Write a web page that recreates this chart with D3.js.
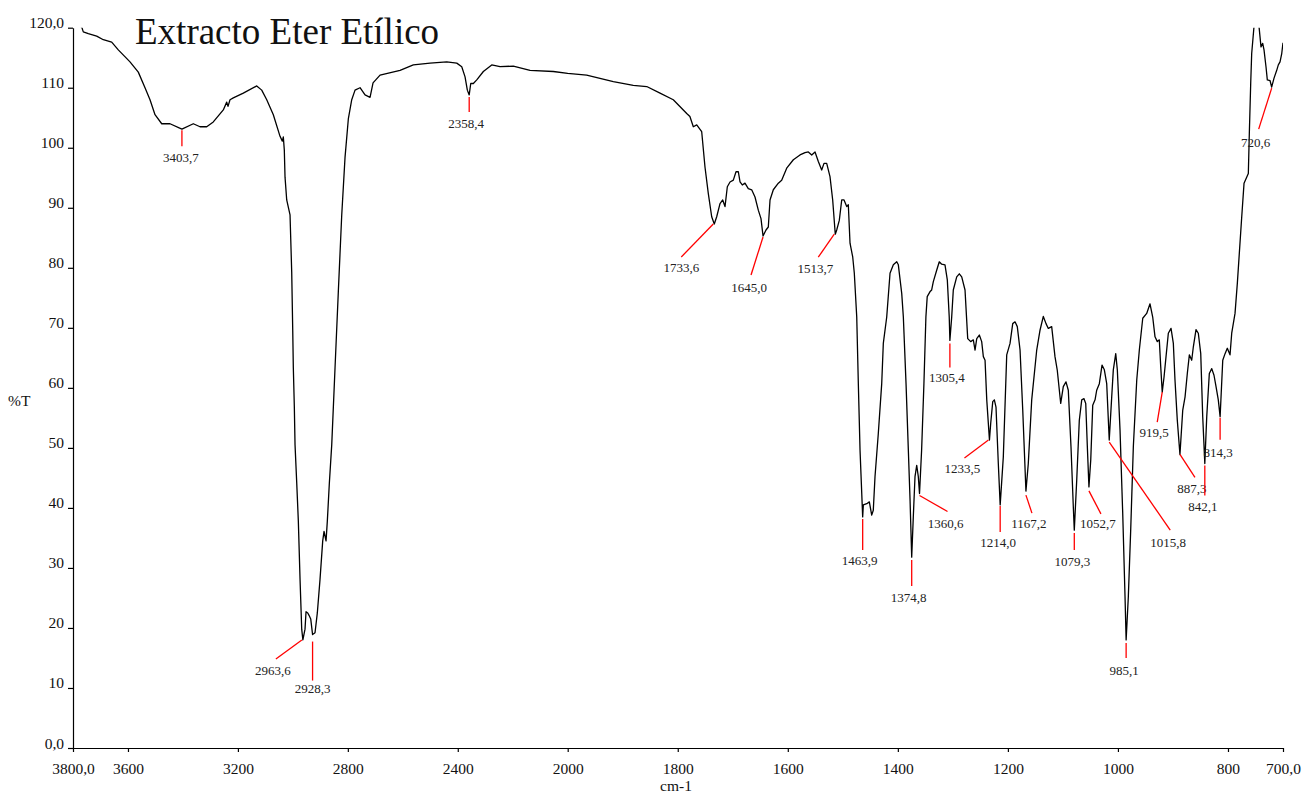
<!DOCTYPE html>
<meta charset="utf-8">
<style>
  body { margin: 0; background: #fff; }
  svg text { font-family: "Liberation Serif", "Times New Roman", serif; fill: #111; }
  .spectrum { fill: none; stroke: #000; stroke-width: 1.3; stroke-linejoin: round; }
  .leader { stroke: #f00; stroke-width: 1.3; }
  .peak-label { font-size: 13px; text-anchor: middle; fill: #222; }
  .axis path, .axis line { stroke: #000; stroke-width: 1.2; }
  .axis text { font-size: 15.5px; font-family: "Liberation Serif", serif; fill: #111; }
  .title { font-size: 37px; }
  .axis-title { font-size: 15.5px; }
</style>
<svg width="1304" height="796"></svg>
<script src="https://d3js.org/d3.v7.min.js"></script>
<script>

// spectrum (cm-1, %T)
var wavenumber = [
  3800, 3768.3, 3762.5, 3744.3, 3713.8, 3689.7, 3659.2, 3635.2, 3592.6, 3562.4,
  3538.0, 3519.8, 3501.6, 3477.2, 3447.0, 3403.7, 3362.2, 3337.9, 3313.5, 3289.5,
  3253.1, 3240.7, 3236.0, 3228.7, 3216.7, 3180.3, 3131.5, 3113.3, 3095.1, 3071.1,
  3046.7, 3038.4, 3034.7, 3031.1, 3028.5, 3022.4, 3010.3, 3004.2, 3000.5, 2998.3,
  2994.7, 2992.1, 2985.9, 2980.1, 2973.9, 2967.8, 2963.6, 2955.8, 2952.1, 2945.9,
  2941.2, 2935.0, 2928.3, 2919.4, 2911.0, 2901.2, 2891.4, 2886.6, 2879.3, 2874.6,
  2867.3, 2858.6, 2846.6, 2834.6, 2822.2, 2810.2, 2798.2, 2785.8, 2773.8, 2755.6,
  2737.4, 2719.2, 2708.3, 2682.8, 2610.0, 2561.7, 2500.9, 2440.1, 2403.7, 2385.5,
  2373.5, 2365.2, 2358.4, 2352.8, 2343.3, 2330.9, 2306.9, 2276.4, 2246.2, 2197.8,
  2137.0, 2052.2, 2000.0, 1965.5, 1917.1, 1880.8, 1856.4, 1832.2, 1808.1, 1789.9,
  1783.7, 1777.9, 1771.7, 1765.5, 1756.5, 1750.5, 1744.5, 1738.3, 1733.6, 1729.2,
  1723.2, 1718.3, 1714.1, 1709.9, 1705.0, 1699.0, 1694.1, 1689.9, 1686.8, 1682.7,
  1677.8, 1671.8, 1665.6, 1659.6, 1653.6, 1648.7, 1645.0, 1639.6, 1635.4, 1632.3,
  1626.3, 1617.2, 1611.1, 1602.0, 1589.9, 1577.8, 1568.7, 1562.7, 1556.5, 1550.5,
  1544.5, 1538.4, 1534.2, 1529.3, 1523.3, 1518.4, 1513.7, 1511.1, 1506.4, 1502.0,
  1497.8, 1492.9, 1490.0, 1486.9, 1482.0, 1479.1, 1474.7, 1471.8, 1468.7, 1463.9,
  1462.7, 1456.5, 1451.8, 1447.5, 1444.6, 1441.5, 1435.5, 1429.3, 1426.4, 1420.2,
  1414.2, 1408.2, 1402.0, 1399.1, 1392.9, 1390.0, 1385.1, 1380.9, 1377.8, 1374.8,
  1371.9, 1368.8, 1365.7, 1362.8, 1360.6, 1356.8, 1352.6, 1349.0, 1346.6, 1341.7,
  1338.6, 1335.5, 1329.4, 1324.7, 1320.3, 1314.3, 1310.1, 1306.6, 1305.4, 1302.1,
  1299.2, 1293.0, 1288.3, 1283.9, 1277.9, 1273.0, 1267.6, 1262.8, 1259.7, 1256.6,
  1251.9, 1247.6, 1244.6, 1241.5, 1238.4, 1233.5, 1231.2, 1227.5, 1224.6, 1221.6,
  1217.4, 1214.0, 1208.3, 1202.1, 1196.1, 1191.2, 1187.0, 1182.9, 1177.9, 1173.0,
  1167.2, 1162.9, 1156.7, 1147.6, 1141.6, 1135.6, 1130.7, 1126.5, 1120.4, 1114.4,
  1110.2, 1104.0, 1099.3, 1094.4, 1090.2, 1085.3, 1081.1, 1079.3, 1074.9, 1070.2,
  1065.8, 1061.7, 1058.5, 1055.6, 1052.7, 1049.4, 1045.8, 1041.6, 1038.6, 1033.8,
  1028.9, 1024.7, 1020.4, 1015.8, 1011.3, 1008.4, 1004.0, 1001.1, 996.2, 991.3,
  987.1, 985.1, 981.1, 976.8, 972.0, 965.8, 961.1, 954.9, 947.7, 941.7,
  936.8, 932.6, 928.4, 924.8, 922.2, 919.5, 916.2, 912.6, 908.4, 903.5,
  899.3, 896.3, 892.1, 887.3, 882.2, 878.0, 873.9, 870.2, 865.9, 863.0,
  858.1, 853.9, 849.5, 845.9, 842.1, 838.6, 833.9, 829.5, 825.4, 821.7,
  817.6, 814.3, 809.5, 805.3, 801.2, 796.3, 793.2, 787.2, 783.0, 779.4,
  775.0, 770.8, 763.0, 761.2, 758.7, 756.9, 752.7, 749.1, 743.6, 740.0,
  736.9, 734.5, 730.9, 728.5, 723.6, 720.6, 716.3, 711.4, 708.5, 705.4,
  702.3, 700.0
];
var transmittance = [
  121.0, 120.1, 119.3, 119.0, 118.6, 118.0, 117.6, 116.3, 114.3, 112.6,
  110.0, 108.0, 105.5, 104.0, 104.0, 103.1, 104.0, 103.5, 103.5, 104.3,
  106.3, 107.6, 106.9, 108.0, 108.3, 109.1, 110.3, 109.6, 108.0, 105.5,
  101.9, 101.1, 101.8, 99.6, 95.1, 91.3, 88.8, 79.3, 69.6, 63.3,
  56.9, 50.5, 44.1, 37.8, 28.1, 19.8, 18.0, 19.8, 22.7, 22.5,
  22.1, 21.5, 18.9, 19.2, 22.5, 28.1, 34.5, 36.1, 34.5, 37.8,
  44.1, 50.5, 63.3, 76.0, 88.8, 98.4, 104.8, 108.0, 109.6, 110.0,
  108.8, 108.4, 110.8, 112.1, 112.9, 113.8, 114.1, 114.3, 114.1, 113.5,
  111.8, 109.6, 108.8, 110.7, 110.7, 111.3, 112.7, 113.8, 113.5, 113.6,
  112.9, 112.7, 112.4, 112.1, 111.0, 110.4, 110.2, 109.1, 108.0, 106.3,
  105.7, 105.2, 103.5, 103.8, 102.7, 96.8, 92.4, 88.5, 87.3, 88.5,
  90.7, 91.3, 90.2, 93.5, 94.3, 94.6, 96.0, 96.0, 94.3, 93.8,
  94.1, 93.2, 93.0, 91.8, 89.6, 88.2, 85.3, 86.3, 86.8, 91.3,
  93.0, 94.1, 94.6, 96.6, 98.0, 98.8, 99.2, 99.3, 98.8, 99.3,
  97.7, 96.3, 97.4, 97.4, 95.2, 91.3, 85.6, 86.3, 87.9, 91.3,
  91.3, 90.2, 90.5, 84.1, 81.8, 79.1, 71.8, 60.7, 49.6, 38.5,
  40.5, 40.7, 41.0, 38.8, 39.6, 45.2, 52.4, 60.7, 67.4, 71.8,
  79.1, 80.5, 81.0, 80.5, 75.7, 71.8, 60.7, 49.6, 41.3, 31.8,
  38.5, 45.2, 47.1, 45.2, 42.4, 49.6, 60.7, 71.8, 75.2, 76.0,
  76.3, 77.7, 79.6, 81.0, 80.6, 80.5, 78.0, 71.8, 67.9, 71.8,
  76.3, 78.5, 79.0, 78.5, 76.3, 68.2, 67.7, 68.0, 66.3, 68.2,
  68.8, 67.7, 65.2, 64.6, 58.0, 51.3, 54.1, 57.7, 58.0, 56.8,
  47.4, 40.5, 48.5, 65.5, 67.4, 70.7, 71.0, 70.2, 66.3, 56.3,
  42.8, 47.4, 58.0, 66.3, 69.6, 71.9, 70.7, 69.9, 70.2, 65.2,
  62.9, 57.4, 60.2, 61.0, 59.6, 50.2, 40.2, 36.3, 44.6, 54.6,
  58.0, 58.2, 57.4, 50.2, 43.5, 48.0, 57.1, 58.0, 59.6, 60.7,
  63.8, 63.0, 60.7, 51.3, 58.5, 63.0, 65.7, 63.0, 53.0, 39.1,
  25.2, 18.0, 25.2, 36.3, 50.2, 61.3, 66.3, 71.6, 72.4, 74.0,
  71.8, 68.5, 67.7, 68.0, 63.5, 59.3, 61.8, 65.2, 69.1, 69.9,
  67.4, 61.3, 54.6, 48.9, 56.3, 58.5, 62.4, 65.5, 64.6, 66.8,
  69.7, 69.1, 65.7, 55.2, 47.4, 55.2, 62.4, 63.2, 62.1, 60.2,
  58.0, 55.2, 64.6, 65.7, 66.6, 65.5, 69.1, 72.4, 77.4, 82.4,
  88.5, 94.1, 95.7, 102.4, 110.7, 115.7, 120.2, 123.0, 120.2, 116.8,
  117.4, 116.3, 113.5, 111.3, 111.2, 110.1, 111.6, 112.9, 113.8, 114.3,
  115.7, 117.5
];

// labelled peaks
var peaks = [3403.7, 2963.6, 2928.3, 2358.4, 1733.6, 1645.0, 1513.7, 1463.9, 1374.8,
  1360.6, 1305.4, 1233.5, 1214.0, 1167.2, 1079.3, 1052.7, 1015.8, 985.1, 919.5,
  887.3, 842.1, 814.3, 720.6];

var xTicks = [3800, 3600, 3200, 2800, 2400, 2000, 1800, 1600, 1400, 1200, 1000, 800, 700];
var yTicks = [0, 10, 20, 30, 40, 50, 60, 70, 80, 90, 100, 110, 120];

// leader line [dx1, dy1, dx2, dy2] and label [dx, dy], pixels from the peak point
var leaders = {
  "3403.7": [0, 1, 0, 17, -1, 33],
  "2963.6": [-1, 0, -27, 19, -30, 35],
  "2928.3": [0, 7, 0, 46, 0, 58],
  "2358.4": [0, 2, 0, 17, -3, 33],
  "1733.6": [-1, 0, -33, 33, -33, 48],
  "1645": [0, 1, -12, 39, -14, 56],
  "1513.7": [-1, 0, -17, 23, -20, 39],
  "1463.9": [0, 2, 0, 33, -3, 48],
  "1374.8": [0, 3, 0, 29, -3, 45],
  "1360.6": [0, 2, 28, 18, 26, 35],
  "1305.4": [0, 3, 0, 27, -3, 42],
  "1233.5": [-1, 0, -25, 18, -27, 33],
  "1214": [0, 1, 0, 27, -2, 42],
  "1167.2": [0, 4, 6, 22, 3, 37],
  "1079.3": [0, 3, 0, 20, -2, 36],
  "1052.7": [0, 4, 12, 27, 9, 41],
  "1015.8": [0, 2, 61, 90, 59, 107],
  "985.1": [0, 3, 0, 18, -2, 35],
  "919.5": [0, 0, -5, 30, -8, 45],
  "887.3": [0, 0, 15, 23, 12, 39],
  "842.1": [0, 2, 0, 32, -2, 48],
  "814.3": [0, 1, 0, 23, -2, 40],
  "720.6": [0, 1, -13, 42, -16, 60]
};

var svg = d3.select("svg");

var plotLeft = 73, plotRight = 1283, plotTop = 27.7, plotBottom = 748;

// wavenumber axis changes scale at 2000 cm-1
var x = d3.scaleLinear()
    .domain([3800, 2000, 700])
    .range([plotLeft, 567.7, plotRight]);
var y = d3.scaleLinear()
    .domain([0, 120])
    .range([plotBottom, plotTop]);

var comma = d3.formatLocale({decimal: ",", thousands: ".", grouping: [3], currency: ["", ""]});
var f1 = comma.format(".1f");

svg.append("defs").append("clipPath")
    .attr("id", "plot")
  .append("rect")
    .attr("x", plotLeft)
    .attr("y", plotTop)
    .attr("width", plotRight - plotLeft)
    .attr("height", plotBottom - plotTop);

// axes
var xAxis = svg.append("g")
    .attr("class", "axis")
    .attr("transform", "translate(0," + plotBottom + ")")
    .call(d3.axisBottom(x)
      .tickValues(xTicks)
      .tickSize(4)
      .tickSizeOuter(0)
      .tickFormat(function(d) { return (d == 3800 || d == 700) ? f1(d) : d; }));
xAxis.selectAll("text").attr("y", 26).attr("dy", 0);

var yAxis = svg.append("g")
    .attr("class", "axis")
    .attr("transform", "translate(" + plotLeft + ",0)")
    .call(d3.axisLeft(y)
      .tickValues(yTicks)
      .tickSize(5)
      .tickSizeOuter(0)
      .tickPadding(4)
      .tickFormat(function(d) { return (d == 0 || d == 120) ? f1(d) : d; }));
yAxis.selectAll("text").attr("dy", 0);

svg.append("text")
    .attr("class", "axis-title")
    .attr("x", 676)
    .attr("y", 791)
    .attr("text-anchor", "middle")
    .text("cm-1");

svg.append("text")
    .attr("class", "axis-title")
    .attr("x", 8)
    .attr("y", 406)
    .text("%T");

svg.append("text")
    .attr("class", "title")
    .attr("x", 135)
    .attr("y", 44)
    .text("Extracto Eter Etílico");

// spectrum
var points = wavenumber.map(function(w, i) { return [w, transmittance[i]]; });

var line = d3.line()
    .x(function(d) { return x(d[0]); })
    .y(function(d) { return y(d[1]); });

svg.append("path")
    .datum(points)
    .attr("class", "spectrum")
    .attr("clip-path", "url(#plot)")
    .attr("d", line);

// peak annotations
var ann = svg.append("g").attr("class", "peaks");
peaks.forEach(function(p) {
  var i = wavenumber.indexOf(p);
  var px = x(p), py = y(transmittance[i]);
  var o = leaders[String(p)];
  ann.append("line")
      .attr("class", "leader")
      .attr("x1", px + o[0]).attr("y1", py + o[1])
      .attr("x2", px + o[2]).attr("y2", py + o[3]);
  ann.append("text")
      .attr("class", "peak-label")
      .attr("x", px + o[4])
      .attr("y", py + o[5])
      .text(f1(p));
});

</script>
